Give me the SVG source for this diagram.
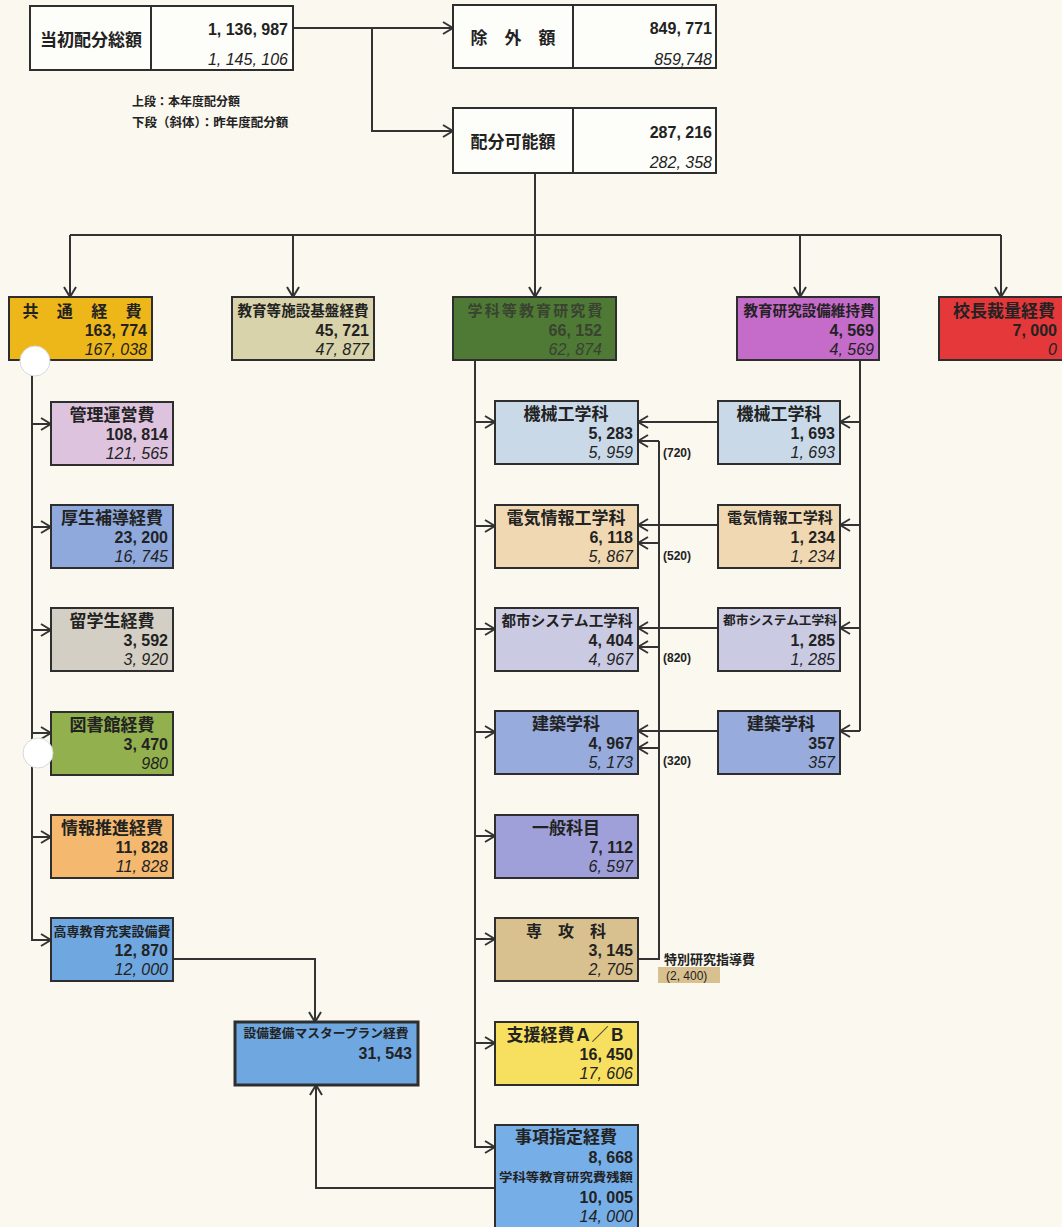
<svg xmlns="http://www.w3.org/2000/svg" width="1062" height="1227" viewBox="0 0 1062 1227">
<defs>
<marker id="ah" markerWidth="12" markerHeight="14" refX="11" refY="7" orient="auto" markerUnits="userSpaceOnUse"><path d="M1,1 L11,7 L1,13" fill="none" stroke="#333" stroke-width="2"/></marker>
<style>
.bx{stroke:#2e2e2e;stroke-width:2}
.wb{fill:#fdfdf9;stroke:#2e2e2e;stroke-width:2}
.dv{stroke:#2e2e2e;stroke-width:2}
text{font-family:'Liberation Sans','Noto Sans CJK JP',sans-serif;fill:#222}
.ti{font-size:16px;font-weight:bold;text-anchor:middle}
.nm{font-size:16px;font-weight:bold;text-anchor:end}
.it{font-size:16px;font-style:italic;text-anchor:end}
.sm{font-size:12px;font-weight:bold}
.lg{font-size:12px;font-weight:bold}
.cn{fill:none;stroke:#333;stroke-width:2}
.dim{fill:#3a4230}
</style>
</defs>
<rect width="1062" height="1227" fill="#faf8ef"/>

<g id="connectors">
<path class="cn" d="M293,28 H453" marker-end="url(#ah)"/>
<path class="cn" d="M372,28 V131 H453" marker-end="url(#ah)"/>
<path class="cn" d="M535,173 V235"/>
<path class="cn" d="M70,235 H1001"/>
<path class="cn" d="M70,235 V297" marker-end="url(#ah)"/>
<path class="cn" d="M293,235 V297" marker-end="url(#ah)"/>
<path class="cn" d="M535,235 V297" marker-end="url(#ah)"/>
<path class="cn" d="M800,235 V297" marker-end="url(#ah)"/>
<path class="cn" d="M1001,235 V297" marker-end="url(#ah)"/>
<path class="cn" d="M32,360 V940 H51" marker-end="url(#ah)"/>
<path class="cn" d="M32,424 H51" marker-end="url(#ah)"/>
<path class="cn" d="M32,527 H51" marker-end="url(#ah)"/>
<path class="cn" d="M32,630 H51" marker-end="url(#ah)"/>
<path class="cn" d="M32,733 H51" marker-end="url(#ah)"/>
<path class="cn" d="M32,837 H51" marker-end="url(#ah)"/>
<path class="cn" d="M173,959 H315 V1022" marker-end="url(#ah)"/>
<path class="cn" d="M475,360 V1147 H495" marker-end="url(#ah)"/>
<path class="cn" d="M475,422 H495" marker-end="url(#ah)"/>
<path class="cn" d="M475,526 H495" marker-end="url(#ah)"/>
<path class="cn" d="M475,629 H495" marker-end="url(#ah)"/>
<path class="cn" d="M475,732 H495" marker-end="url(#ah)"/>
<path class="cn" d="M475,836 H495" marker-end="url(#ah)"/>
<path class="cn" d="M475,939 H495" marker-end="url(#ah)"/>
<path class="cn" d="M475,1043 H495" marker-end="url(#ah)"/>
<path class="cn" d="M495,1188 H316 V1085" marker-end="url(#ah)"/>
<path class="cn" d="M860,360 V731"/>
<path class="cn" d="M860,422 H840" marker-end="url(#ah)"/>
<path class="cn" d="M860,525 H840" marker-end="url(#ah)"/>
<path class="cn" d="M860,628 H840" marker-end="url(#ah)"/>
<path class="cn" d="M860,731 H840" marker-end="url(#ah)"/>
<path class="cn" d="M718,422 H638" marker-end="url(#ah)"/>
<path class="cn" d="M718,525 H638" marker-end="url(#ah)"/>
<path class="cn" d="M718,628 H638" marker-end="url(#ah)"/>
<path class="cn" d="M718,731 H638" marker-end="url(#ah)"/>
<path class="cn" d="M638,959 H659 V441"/>
<path class="cn" d="M659,441 H638" marker-end="url(#ah)"/>
<path class="cn" d="M659,543 H638" marker-end="url(#ah)"/>
<path class="cn" d="M659,647 H638" marker-end="url(#ah)"/>
<path class="cn" d="M659,748 H638" marker-end="url(#ah)"/>
<text class="sm" x="663" y="457">(720)</text>
<text class="sm" x="663" y="560">(520)</text>
<text class="sm" x="663" y="662">(820)</text>
<text class="sm" x="663" y="765">(320)</text>
<text class="sm" x="664" y="964" style="font-size:13px">特別研究指導費</text>
<rect x="658" y="967" width="62" height="16" fill="#d9c18f"/>
<text class="sm" x="666" y="980" style="font-weight:normal">(2, 400)</text>
</g>

<text class="lg" x="132" y="106">上段：本年度配分額</text>
<text class="lg" x="132" y="127" style="font-size:12.5px">下段（斜体）：昨年度配分額</text>

<g id="n-total">
<rect class="wb" x="30" y="6" width="263" height="64"/>
<line class="dv" x1="151" y1="6" x2="151" y2="70"/>
<text class="ti" x="91" y="46" style="font-size:17px">当初配分総額</text>
<text class="nm" x="288" y="35">1, 136, 987</text>
<text class="it" x="288" y="65">1, 145, 106</text>
</g>
<g id="n-excluded">
<rect class="wb" x="453" y="5" width="263" height="63"/>
<line class="dv" x1="573" y1="5" x2="573" y2="68"/>
<text class="ti" x="513" y="44" style="font-size:17px">除　外　額</text>
<text class="nm" x="712" y="34">849, 771</text>
<text class="it" x="712" y="65">859,748</text>
</g>
<g id="n-allocatable">
<rect class="wb" x="453" y="108" width="263" height="65"/>
<line class="dv" x1="573" y1="108" x2="573" y2="173"/>
<text class="ti" x="513" y="148" style="font-size:17px">配分可能額</text>
<text class="nm" x="712" y="138">287, 216</text>
<text class="it" x="712" y="168">282, 358</text>
</g>

<g id="n-common">
<rect class="bx" x="9" y="297" width="143" height="63" fill="#eeb719"/>
<text class="ti" x="82" y="317" textLength="119" lengthAdjust="spacing">共通経費</text>
<text class="nm" x="147" y="336">163, 774</text>
<text class="it" x="147" y="355">167, 038</text>
</g>
<g id="n-facility">
<rect class="bx" x="232" y="297" width="142" height="63" fill="#d9d3ac"/>
<text class="ti" x="303" y="316" style="font-size:14.5px" textLength="131" lengthAdjust="spacingAndGlyphs">教育等施設基盤経費</text>
<text class="nm" x="369" y="336">45, 721</text>
<text class="it" x="369" y="355">47, 877</text>
</g>
<g id="n-dept">
<rect class="bx" x="453" y="297" width="163" height="63" fill="#4e7a36"/>
<text class="ti dim" x="535" y="316" style="font-size:15px" textLength="135" lengthAdjust="spacing">学科等教育研究費</text>
<text class="nm dim" x="602" y="336">66, 152</text>
<text class="it dim" x="602" y="355">62, 874</text>
</g>
<g id="n-equip">
<rect class="bx" x="737" y="297" width="142" height="63" fill="#c56bc9"/>
<text class="ti" x="809" y="316" style="font-size:14.5px" textLength="131" lengthAdjust="spacingAndGlyphs">教育研究設備維持費</text>
<text class="nm" x="874" y="336">4, 569</text>
<text class="it" x="874" y="355">4, 569</text>
</g>
<g id="n-president">
<rect class="bx" x="939" y="297" width="125" height="63" fill="#e5383b"/>
<text class="ti" x="1004" y="317" style="font-size:17px">校長裁量経費</text>
<text class="nm" x="1057" y="336">7, 000</text>
<text class="it" x="1057" y="355">0</text>
</g>

<g id="n-admin">
<rect class="bx" x="51" y="402" width="122" height="63" fill="#ddc3de"/>
<text class="ti" x="112" y="421" style="font-size:17px">管理運営費</text>
<text class="nm" x="168" y="440">108, 814</text>
<text class="it" x="168" y="459">121, 565</text>
</g>
<g id="n-welfare">
<rect class="bx" x="51" y="505" width="122" height="63" fill="#8fa9dd"/>
<text class="ti" x="112" y="524" style="font-size:17px">厚生補導経費</text>
<text class="nm" x="168" y="543">23, 200</text>
<text class="it" x="168" y="562">16, 745</text>
</g>
<g id="n-intl">
<rect class="bx" x="51" y="608" width="122" height="63" fill="#d3cfc4"/>
<text class="ti" x="112" y="627" style="font-size:17px">留学生経費</text>
<text class="nm" x="168" y="646">3, 592</text>
<text class="it" x="168" y="665">3, 920</text>
</g>
<g id="n-library">
<rect class="bx" x="51" y="712" width="122" height="63" fill="#93b04f"/>
<text class="ti" x="112" y="731" style="font-size:17px">図書館経費</text>
<text class="nm" x="168" y="750">3, 470</text>
<text class="it" x="168" y="769">980</text>
</g>
<g id="n-info">
<rect class="bx" x="51" y="815" width="122" height="63" fill="#f4b96f"/>
<text class="ti" x="112" y="834" style="font-size:17px">情報推進経費</text>
<text class="nm" x="168" y="853">11, 828</text>
<text class="it" x="168" y="872">11, 828</text>
</g>
<g id="n-kosen">
<rect class="bx" x="51" y="918" width="122" height="63" fill="#6fa7e1"/>
<text class="ti" x="112" y="936" style="font-size:13px" textLength="117" lengthAdjust="spacingAndGlyphs">高専教育充実設備費</text>
<text class="nm" x="168" y="956">12, 870</text>
<text class="it" x="168" y="975">12, 000</text>
</g>

<g id="n-mech">
<rect class="bx" x="495" y="401" width="143" height="63" fill="#c9d9e8"/>
<text class="ti" x="566" y="420" style="font-size:17px">機械工学科</text>
<text class="nm" x="633" y="439">5, 283</text>
<text class="it" x="633" y="458">5, 959</text>
</g>
<g id="n-elec">
<rect class="bx" x="495" y="505" width="143" height="63" fill="#f0d9b2"/>
<text class="ti" x="566" y="524" style="font-size:17px">電気情報工学科</text>
<text class="nm" x="633" y="543">6, 118</text>
<text class="it" x="633" y="562">5, 867</text>
</g>
<g id="n-civil">
<rect class="bx" x="495" y="608" width="143" height="63" fill="#cacae2"/>
<text class="ti" x="567" y="626" style="font-size:14.5px" textLength="131" lengthAdjust="spacingAndGlyphs">都市システム工学科</text>
<text class="nm" x="633" y="646">4, 404</text>
<text class="it" x="633" y="665">4, 967</text>
</g>
<g id="n-arch">
<rect class="bx" x="495" y="711" width="143" height="63" fill="#97abdd"/>
<text class="ti" x="566" y="730" style="font-size:17px">建築学科</text>
<text class="nm" x="633" y="749">4, 967</text>
<text class="it" x="633" y="768">5, 173</text>
</g>
<g id="n-general">
<rect class="bx" x="495" y="815" width="143" height="63" fill="#9fa0d9"/>
<text class="ti" x="566" y="834" style="font-size:17px">一般科目</text>
<text class="nm" x="633" y="853">7, 112</text>
<text class="it" x="633" y="872">6, 597</text>
</g>
<g id="n-advanced">
<rect class="bx" x="495" y="918" width="143" height="63" fill="#d9c18f"/>
<text class="ti" x="566" y="937" style="font-size:16px">専　攻　科</text>
<text class="nm" x="633" y="956">3, 145</text>
<text class="it" x="633" y="975">2, 705</text>
</g>
<g id="n-support">
<rect class="bx" x="495" y="1022" width="143" height="63" fill="#f7e05f"/>
<text class="ti" x="566" y="1041" style="font-size:17px">支援経費Ａ／Ｂ</text>
<text class="nm" x="633" y="1060">16, 450</text>
<text class="it" x="633" y="1079">17, 606</text>
</g>
<g id="n-designated">
<rect class="bx" x="495" y="1125" width="143" height="110" fill="#76aee8"/>
<text class="ti" x="566" y="1143" style="font-size:17px">事項指定経費</text>
<text class="nm" x="633" y="1163">8, 668</text>
<text class="ti" x="566" y="1182" style="font-size:12px" textLength="134" lengthAdjust="spacingAndGlyphs">学科等教育研究費残額</text>
<text class="nm" x="633" y="1203">10, 005</text>
<text class="it" x="633" y="1222">14, 000</text>
</g>

<g id="n-r-mech">
<rect class="bx" x="718" y="401" width="122" height="63" fill="#c9d9e8"/>
<text class="ti" x="779" y="420" style="font-size:17px">機械工学科</text>
<text class="nm" x="835" y="439">1, 693</text>
<text class="it" x="835" y="458">1, 693</text>
</g>
<g id="n-r-elec">
<rect class="bx" x="718" y="505" width="122" height="63" fill="#f0d9b2"/>
<text class="ti" x="780" y="523" style="font-size:15px" textLength="106" lengthAdjust="spacingAndGlyphs">電気情報工学科</text>
<text class="nm" x="835" y="543">1, 234</text>
<text class="it" x="835" y="562">1, 234</text>
</g>
<g id="n-r-civil">
<rect class="bx" x="718" y="608" width="122" height="63" fill="#cacae2"/>
<text class="ti" x="780" y="625" style="font-size:12.5px" textLength="114" lengthAdjust="spacingAndGlyphs">都市システム工学科</text>
<text class="nm" x="835" y="646">1, 285</text>
<text class="it" x="835" y="665">1, 285</text>
</g>
<g id="n-r-arch">
<rect class="bx" x="718" y="711" width="122" height="63" fill="#97abdd"/>
<text class="ti" x="781" y="730" style="font-size:17px">建築学科</text>
<text class="nm" x="835" y="749">357</text>
<text class="it" x="835" y="768">357</text>
</g>

<g id="n-master">
<rect x="235" y="1022" width="183" height="63" fill="#6fa7e1" stroke="#2e2e2e" stroke-width="3"/>
<text class="ti" x="326" y="1038" style="font-size:12.5px" textLength="165" lengthAdjust="spacingAndGlyphs">設備整備マスタープラン経費</text>
<text class="nm" x="412" y="1059">31, 543</text>
</g>

<circle cx="35" cy="361" r="15" fill="#ffffff" stroke="#d8d8d8" stroke-width="1"/>
<circle cx="38" cy="753" r="15" fill="#ffffff" stroke="#d8d8d8" stroke-width="1"/>
</svg>
